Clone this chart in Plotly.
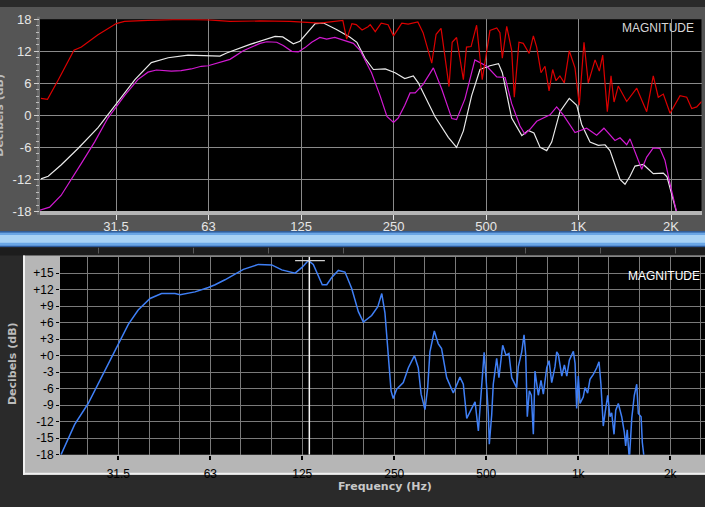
import plotly.graph_objects as go

W, H = 705, 507

# ---------------- data (frequency in Hz, level in dB) ----------------
red_f = [17.8, 18.7, 20.2, 22.8, 24.1, 27.3, 31.3, 33.3, 39.7, 50.9,
         62.4, 73.4, 91.9, 115, 144, 161, 171, 176, 183, 189,
         197.5, 206.5, 210, 218, 228, 240, 250, 266, 279, 300,
         312, 333, 344, 357, 379, 388, 401, 422, 432, 447,
         466, 486, 515, 542, 555, 565, 584, 606, 618, 640,
         661, 691, 713, 731, 755, 778, 802, 824, 845, 870,
         899, 933, 974, 1006, 1019, 1042, 1076, 1132, 1169, 1199,
         1241, 1276, 1305, 1347, 1435, 1547, 1667, 1751, 1818, 1888,
         1986, 2140, 2250, 2336, 2425, 2518]
red_db = [3.2, 3.0, 6.5, 12.2, 12.8, 15.1, 17.2, 17.6, 17.8, 18.0,
          17.9, 17.6, 17.7, 17.6, 17.3, 17.6, 17.8, 14.3, 17.2, 17.0,
          16.0, 16.6, 17.0, 15.7, 17.3, 17.0, 14.9, 17.3, 17.1, 17.5,
          15.5, 9.8, 15.2, 16.3, 5.4, 13.7, 14.6, 6.7, 12.8, 12.9,
          16.9, 6.7, 15.9, 16.4, 15.5, 10.7, 16.7, 12.2, 3.4, 13.7,
          13.5, 11.6, 14.9, 12.8, 8.0, 9.2, 4.6, 8.6, 6.5, 7.4,
          6.1, 12.1, 8.9, 1.9, 6.7, 13.7, 6.1, 10.4, 8.3, 11.3,
          0.7, 7.4, 2.5, 5.5, 2.6, 5.1, 0.7, 7.4, 3.4, 4.0,
          0.4, 3.7, 3.4, 1.3, 1.6, 2.6]

white_f = [17.8, 18.8, 20.7, 23.5, 27.3, 31.3, 36.0, 40.7, 46.2, 53.6,
           62.3, 68.1, 71.6, 85.3, 102.9, 109, 118, 124, 139, 148,
           163, 180, 190, 202, 215, 235, 253, 272, 290, 301,
           341, 377, 401, 422, 449, 478, 515, 549, 565, 606,
           654, 686, 716, 750, 788, 818, 870, 933, 987, 1024,
           1090, 1160, 1220, 1266, 1365, 1417, 1471, 1527, 1625, 1751,
           1888, 1941, 2088]
white_db = [-11.9, -11.4, -9.3, -6.2, -2.3, 2.2, 6.7, 9.9, 10.8, 11.3,
            11.1, 11.1, 11.7, 13.3, 14.8, 14.7, 13.4, 13.9, 17.2, 17.3,
            16.1, 14.7, 13.7, 10.7, 8.6, 8.7, 8.0, 6.9, 7.4, 6.1,
            -0.2, -4.1, -6.0, -2.9, 3.7, 8.6, 9.3, 9.7, 8.0, -0.5,
            -3.8, -2.8, -3.3, -6.0, -6.6, -5.0, 0.7, 3.2, 1.9, -1.7,
            -5.0, -5.6, -5.5, -6.6, -12.0, -12.9, -11.4, -9.5, -9.2, -10.9,
            -10.8, -11.5, -18.3]

mag_f = [17.6, 19.0, 20.7, 22.4, 24.1, 26.6, 29.4, 31.3, 33.3, 36.8,
         39.7, 42.3, 47.3, 50.9, 54.9, 59.2, 62.3, 73.4, 81.1, 91.9,
         96.7, 104.2, 109.4, 116.6, 122.5, 128.8, 135.4, 144, 151.5, 161,
         171.6, 185, 194.5, 202, 212, 226, 238, 250, 259, 272,
         283, 294, 312, 337, 359, 387, 401, 427, 460, 503,
         542, 577, 606, 645, 669, 695, 731, 808, 849, 892,
         974, 1063, 1146, 1210, 1314, 1365, 1435, 1471, 1547, 1606,
         1667, 1751, 1841, 1911, 1986, 2088]
mag_db = [-17.8, -17.2, -15.0, -12.0, -9.0, -5.0, -0.5, 1.6, 3.7, 6.7,
          8.1, 8.5, 8.3, 8.4, 8.7, 9.2, 9.3, 10.5, 12.1, 13.5,
          13.8, 13.7, 13.1, 12.0, 11.9, 12.7, 13.7, 14.6, 14.3, 14.6,
          14.1, 13.5, 12.2, 10.4, 8.0, 3.7, -0.2, -1.3, -0.5, 1.9,
          4.2, 4.2, 5.8, 8.9, 4.9, -0.6, -0.8, 3.1, 10.4, 9.2,
          7.2, 7.1, 2.2, -2.0, -3.5, -2.6, -1.1, 0.1, 1.6, 0.1,
          -3.2, -2.4, -3.7, -2.4, -4.7, -4.2, -5.5, -4.4, -7.8, -10.1,
          -7.8, -6.1, -6.2, -8.4, -12.9, -18.2]

blue_f = [20.3, 22.5, 24.9, 28.3, 31.25, 33.7, 36.3, 39.7, 43.3, 47.9,
          49.8, 55.7, 61.6, 64.8, 69.8, 80.2, 89.8, 99.3, 107.1, 118.4,
          125, 130.8, 135.8, 145.3, 150.3, 156, 164, 172.4, 181.4, 190.7,
          198, 210.8, 220.8, 227.5, 233, 239, 244, 248, 254.5, 267.5,
          278, 291, 299.5, 306, 315, 321.5, 327, 338, 348, 357,
          371, 390, 410, 420.5, 431.5, 448, 459.5, 471, 483, 492,
          501.5, 507.6, 511.4, 520.7, 527, 540.7, 550, 565.7, 580, 593,
          605.5, 628.5, 636.4, 653, 664.5, 673, 681, 691.5, 702, 712.7,
          721.6, 740, 755, 768.5, 788.5, 802.5, 818.5, 839, 850, 860.5,
          883, 900.5, 917, 935, 963.5, 976, 988, 1000, 1013, 1038,
          1052, 1073, 1092, 1120, 1149, 1169, 1186, 1207, 1223, 1248,
          1270, 1286, 1309, 1326, 1352, 1387, 1415, 1429, 1446, 1469,
          1496, 1525, 1553, 1572, 1605, 1620, 1645]
blue_db = [-18.0, -12.5, -8.7, -2.5, 2.2, 5.7, 8.3, 10.4, 11.3, 11.3,
           11.1, 11.6, 12.4, 12.9, 13.8, 15.7, 16.6, 16.5, 15.6, 15.0,
           16.1, 17.3, 16.6, 12.9, 12.9, 14.2, 15.5, 15.2, 12.2, 8.0,
           6.1, 7.3, 8.9, 11.3, 7.8, 0.1, -6.4, -7.8, -6.1, -4.9,
           -2.2, 0.0, -2.2, -7.0, -9.8, -5.8, 0.7, 4.5, 2.2, 1.3,
           -4.0, -6.8, -3.9, -5.2, -11.4, -9.6, -8.4, -13.7, -4.6, 0.6,
           -5.8, -10.5, -16.1, -10.8, -5.2, -0.5, -4.0, 1.9, 0.1, 0.4,
           -4.0, -5.8, -2.0, 0.7, 3.8, 0.1, -11.1, -6.4, -7.2, -14.3,
           -2.8, -7.2, -4.5, -7.0, -2.2, -0.9, -4.9, -2.0, 0.7, 0.2,
           -3.7, -1.7, -3.7, -0.8, 0.8, -1.4, -9.6, -3.7, -8.7, -7.5,
           -5.8, -6.8, -4.3, -3.4, -2.2, -1.1, -5.2, -12.8, -10.5, -7.2,
           -11.1, -10.4, -14.3, -9.9, -8.7, -11.1, -14.0, -16.4, -13.5, -19.0,
           -11.4, -7.2, -5.2, -10.5, -11.1, -15.8, -19.0]

# tick positions / labels
octave_vals = [31.25, 62.5, 125, 250, 500, 1000, 2000]
top_x_text = ["31.5", "63", "125", "250", "500", "1K", "2K"]
bot_x_text = ["31.5", "63", "125", "250", "500", "1k", "2k"]
third_octave_vals = [24.8, 31.25, 39.4, 49.6, 62.5, 78.7, 99.2, 125, 157.5, 198.4,
                     250, 315, 396.9, 500, 630, 793.7, 1000, 1260, 1587, 2000, 2520]
top_y_vals = [-18, -12, -6, 0, 6, 12, 18]
top_y_text = ["-18", "-12", "-6", "0", "6", "12", "18"]
bot_y_vals = [-18, -15, -12, -9, -6, -3, 0, 3, 6, 9, 12, 15]
bot_y_text = ["-18", "-15", "-12", "-9", "-6", "-3", "+0", "+3", "+6", "+9", "+12", "+15"]

cursor_f = 131.8
cursor_db = 17.3
cursor_span = [118.4, 148.2]

# ---------------- layout helpers (pixel -> paper) ----------------
def PX(p):
    return p / W


def PY(p):
    return 1 - p / H


top_dom_x = [PX(40), PX(701.5)]
top_dom_y = [PY(210.7), PY(12.7)]
bot_dom_x = [PX(60), 1.0]
bot_dom_y = [PY(461.3), PY(257.3)]

fig = go.Figure()

fig.add_trace(go.Scatter(x=white_f, y=white_db, mode="lines", xaxis="x", yaxis="y",
                         line=dict(color="#e8e8e8", width=1.2), showlegend=False))
fig.add_trace(go.Scatter(x=mag_f, y=mag_db, mode="lines", xaxis="x", yaxis="y",
                         line=dict(color="#d21ad2", width=1.2), showlegend=False))
fig.add_trace(go.Scatter(x=red_f, y=red_db, mode="lines", xaxis="x", yaxis="y",
                         line=dict(color="#dc0000", width=1.2), showlegend=False))
fig.add_trace(go.Scatter(x=blue_f, y=blue_db, mode="lines", xaxis="x2", yaxis="y2",
                         line=dict(color="#3f7ff5", width=1.5), showlegend=False))

grid_top = "#8a8a8a"
grid_bot = "#7a7a7a"


def rect(x0, y0, x1, y1, color, layer="below"):
    return dict(type="rect", xref="paper", yref="paper",
                x0=PX(x0), x1=PX(x1), y0=PY(y1), y1=PY(y0),
                fillcolor=color, line=dict(width=0), layer=layer)


shapes = [
    rect(0, 0, 705, 231, "#555555"),
    rect(0, 231, 705, 247.5, "#6aa6e6"),
    rect(0, 235, 705, 243, "#a8d2f5"),
    rect(0, 231, 705, 232.5, "#23508f"),
    rect(0, 246, 705, 247.5, "#2c5a9c"),
    rect(0, 247.5, 705, 256, "#1d1d1d"),
    rect(23, 256, 705, 482, "#b6b6b6"),
    rect(23, 256, 25, 482, "#f0f0f0"),
    rect(23, 480, 705, 482, "#f0f0f0"),
    rect(37, 10, 40, 214, "#6a6a6a"),
    rect(40, 12.7, 701.5, 210.7, "#000000"),
    rect(60, 257.3, 705, 461.3, "#000000"),
]
for sx in [98, 193, 268, 343, 525, 600, 675]:
    shapes.append(rect(sx, 248, sx + 1, 254, "#5a5a5a"))

# cursor in lower chart
shapes.append(dict(type="line", xref="x2", yref="y2", x0=cursor_f, x1=cursor_f,
                   y0=-18, y1=18, line=dict(color="#f4f4f4", width=1.5), layer="above"))
shapes.append(dict(type="line", xref="x2", yref="y2", x0=cursor_span[0], x1=cursor_span[1],
                   y0=cursor_db, y1=cursor_db, line=dict(color="#d0d0d0", width=1.2), layer="above"))

annotations = [
    dict(text="MAGNITUDE", xref="paper", yref="paper", x=PX(696), y=PY(22),
         xanchor="right", yanchor="middle", showarrow=False,
         font=dict(family="Liberation Sans, Arial", size=12, color="#d8d8d8")),
    dict(text="MAGNITUDE", xref="paper", yref="paper", x=PX(702), y=PY(277),
         xanchor="right", yanchor="middle", showarrow=False,
         font=dict(family="Liberation Sans, Arial", size=12, color="#ffffff")),
    dict(text="<b>Frequency (Hz)</b>", xref="paper", yref="paper", x=PX(385), y=PY(494),
         xanchor="center", yanchor="middle", showarrow=False,
         font=dict(family="DejaVu Sans", size=11, color="#c8c8c8")),
    dict(text="<b>Decibels (dB)</b>", xref="paper", yref="paper", x=PX(12), y=PY(368),
         xanchor="center", yanchor="middle", showarrow=False, textangle=-90,
         font=dict(family="DejaVu Sans", size=11, color="#bcbcbc")),
    dict(text="<b>Decibels (dB)</b>", xref="paper", yref="paper", x=PX(0), y=PY(112),
         xanchor="center", yanchor="middle", showarrow=False, textangle=-90,
         font=dict(family="DejaVu Sans", size=11, color="#bcbcbc")),
]

fig.update_layout(
    width=W, height=H,
    margin=dict(l=0, r=0, t=0, b=0, pad=0),
    paper_bgcolor="#2a2a2a",
    plot_bgcolor="rgba(0,0,0,0)",
    showlegend=False,
    shapes=shapes,
    annotations=annotations,
    xaxis=dict(type="log", domain=top_dom_x, range=[1.2474, 3.4003], anchor="y",
               tickmode="array", tickvals=octave_vals, ticktext=top_x_text,
               ticks="outside", ticklen=5, tickwidth=1, tickcolor="#e6e6e6",
               ticklabelstandoff=-5,
               tickfont=dict(family="Liberation Sans, Arial", size=13, color="#e6e6e6"),
               showgrid=True, gridcolor=grid_top, gridwidth=1, zeroline=False,
               showline=True, linecolor="#b4b4b4", linewidth=4, fixedrange=True),
    yaxis=dict(domain=top_dom_y, range=[-18, 18], anchor="x",
               tickmode="array", tickvals=top_y_vals, ticktext=top_y_text,
               ticks="outside", ticklen=5, tickwidth=1, tickcolor="#d0d0d0",
               tickfont=dict(family="Liberation Sans, Arial", size=13, color="#e6e6e6"),
               showgrid=True, gridcolor=grid_top, gridwidth=1, zeroline=False,
               showline=False,
               minor=dict(tickmode="linear", tick0=0, dtick=1.2, ticks="outside",
                          ticklen=3, tickcolor="#bdbdbd", showgrid=False),
               fixedrange=True),
    xaxis2=dict(type="log", domain=bot_dom_x, range=[1.3041, 3.4146], anchor="y2",
                tickmode="array", tickvals=octave_vals, ticktext=bot_x_text,
                ticks="outside", ticklen=4, tickwidth=1.5, tickcolor="#000000",
                ticklabelstandoff=4,
                tickfont=dict(family="Liberation Sans, Arial", size=12, color="#000000"),
                showgrid=False, zeroline=False, showline=False,
                minor=dict(tickmode="array", tickvals=third_octave_vals, ticks="",
                           showgrid=True, gridcolor=grid_bot, gridwidth=1),
                fixedrange=True),
    yaxis2=dict(domain=bot_dom_y, range=[-18, 18], anchor="x2",
                tickmode="array", tickvals=bot_y_vals, ticktext=bot_y_text,
                ticks="outside", ticklen=3, tickwidth=1, tickcolor="#000000",
                tickfont=dict(family="Liberation Sans, Arial", size=12, color="#000000"),
                showgrid=True, gridcolor=grid_bot, gridwidth=1, zeroline=False,
                showline=False, fixedrange=True),
)

fig.write_html(
    "out.html",
    config={"displayModeBar": False},
    post_script="document.body.style.margin='0';document.body.style.overflow='hidden';",
)
